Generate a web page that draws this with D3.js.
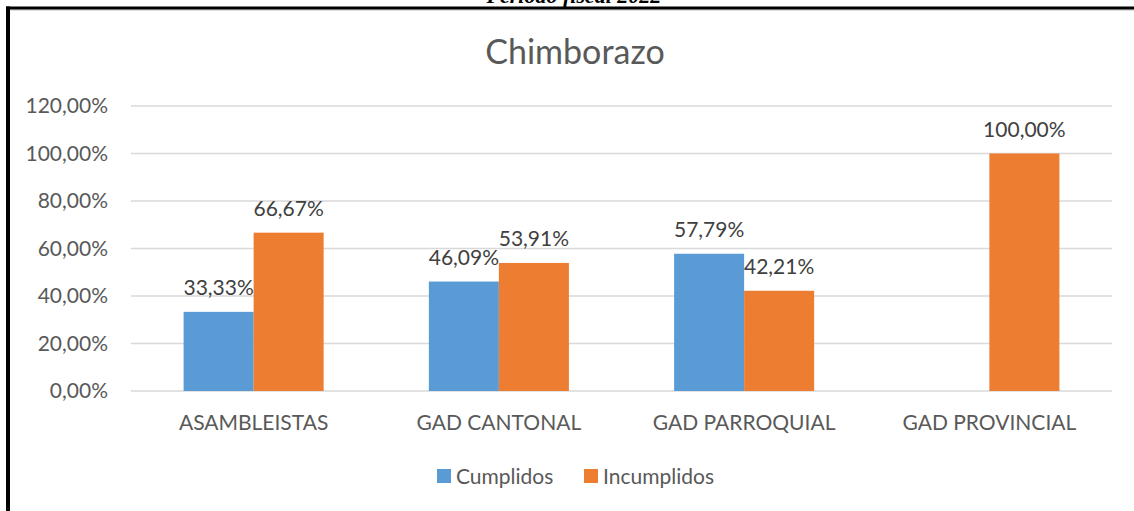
<!DOCTYPE html>
<html>
<head>
<meta charset="utf-8">
<script src="https://cdn.jsdelivr.net/npm/d3@7"></script>
<style>
  html, body { margin: 0; padding: 0; background: #fff; }
  svg { display: block; }
</style>
</head>
<body>
<div id="chart"></div>
<script>
// Datos del gráfico
const categories = ['ASAMBLEISTAS', 'GAD CANTONAL', 'GAD PARROQUIAL', 'GAD PROVINCIAL'];
const seriesNames = ['Cumplidos', 'Incumplidos'];
const cumplidos = [0.3333, 0.4609, 0.5779, null];
const incumplidos = [0.6667, 0.5391, 0.4221, 1.0];
const yTicks = [0, 0.2, 0.4, 0.6, 0.8, 1.0, 1.2];
const colors = ['#5B9BD5', '#ED7D31'];

const width = 1134;
const height = 511;
const margin = { left: 131, right: 22, top: 106, bottom: 120 };
const fontFamily = 'Lato, "Open Sans", sans-serif';

const svg = d3.select('#chart')
  .append('svg')
  .attr('width', width)
  .attr('height', height);

// Texto superior (recortado en el original)
svg.append('text')
  .attr('x', 574)
  .attr('y', 3)
  .attr('text-anchor', 'middle')
  .attr('font-family', 'Liberation Serif')
  .attr('font-weight', 'bold')
  .attr('font-style', 'italic')
  .attr('font-size', 22)
  .attr('fill', '#000')
  .text('Período fiscal 2022');

// Marco
svg.append('line').attr('x1', 10.5).attr('x2', 1134).attr('y1', 10).attr('y2', 10)
  .attr('stroke', '#bfbfbf').attr('stroke-width', 1);
svg.append('line').attr('x1', 6).attr('x2', 1134).attr('y1', 8).attr('y2', 8)
  .attr('stroke', '#000').attr('stroke-width', 3);
svg.append('line').attr('x1', 8).attr('x2', 8).attr('y1', 6.5).attr('y2', height)
  .attr('stroke', '#000').attr('stroke-width', 4);

// Título
svg.append('text')
  .attr('x', 575)
  .attr('y', 64)
  .attr('text-anchor', 'middle')
  .attr('font-family', fontFamily)
  .attr('font-size', 34)
  .attr('fill', '#595959')
  .text('Chimborazo');

const x0 = d3.scaleBand()
  .domain(categories)
  .range([margin.left, width - margin.right])
  .paddingInner(0.429)
  .paddingOuter(0.2145);

const x1 = d3.scaleBand()
  .domain(seriesNames)
  .range([0, x0.bandwidth()]);

const y = d3.scaleLinear()
  .domain([0, 1.2])
  .range([391, 106]);

const fmt = v => (v * 100).toFixed(2).replace('.', ',') + '%';

// Líneas de cuadrícula
svg.append('g')
  .selectAll('line')
  .data(yTicks)
  .enter()
  .append('line')
  .attr('x1', margin.left)
  .attr('x2', width - margin.right)
  .attr('y1', d => y(d))
  .attr('y2', d => y(d))
  .attr('stroke', '#d9d9d9')
  .attr('stroke-width', 1.5);

// Etiquetas del eje Y
svg.append('g')
  .selectAll('text')
  .data(yTicks)
  .enter()
  .append('text')
  .attr('x', 108)
  .attr('y', d => y(d) + 7)
  .attr('text-anchor', 'end')
  .attr('font-family', fontFamily)
  .attr('font-size', 21)
  .attr('fill', '#595959')
  .text(d => fmt(d));

// Barras
const rows = categories.map((c, i) => ({ cat: c, vals: [cumplidos[i], incumplidos[i]] }));

const groups = svg.append('g')
  .selectAll('g')
  .data(rows)
  .enter()
  .append('g')
  .attr('transform', d => `translate(${x0(d.cat)},0)`);

const barData = d => d.vals
  .map((v, j) => ({ key: seriesNames[j], v, j }))
  .filter(b => b.v !== null);

groups.selectAll('rect')
  .data(barData)
  .enter()
  .append('rect')
  .attr('x', d => x1(d.key))
  .attr('y', d => y(d.v))
  .attr('width', x1.bandwidth())
  .attr('height', d => y(0) - y(d.v))
  .attr('fill', d => colors[d.j]);

// Etiquetas de datos
groups.selectAll('text')
  .data(barData)
  .enter()
  .append('text')
  .attr('x', d => x1(d.key) + x1.bandwidth() / 2)
  .attr('y', d => y(d.v) - 17)
  .attr('text-anchor', 'middle')
  .attr('font-family', fontFamily)
  .attr('font-size', 21)
  .attr('fill', '#404040')
  .text(d => fmt(d.v));

// Etiquetas de categoría
svg.append('g')
  .selectAll('text')
  .data(categories)
  .enter()
  .append('text')
  .attr('x', d => x0(d) + x0.bandwidth() / 2)
  .attr('y', 430)
  .attr('text-anchor', 'middle')
  .attr('font-family', fontFamily)
  .attr('font-size', 21)
  .attr('fill', '#595959')
  .text(d => d);

// Leyenda
const legendX = [437, 584];
const legend = svg.append('g')
  .selectAll('g')
  .data(seriesNames)
  .enter()
  .append('g')
  .attr('transform', (d, i) => `translate(${legendX[i]},469)`);

legend.append('rect')
  .attr('width', 14)
  .attr('height', 14)
  .attr('fill', (d, i) => colors[i]);

legend.append('text')
  .attr('x', 19)
  .attr('y', 15)
  .attr('font-family', fontFamily)
  .attr('font-size', 21)
  .attr('fill', '#595959')
  .text(d => d);
</script>
</body>
</html>
